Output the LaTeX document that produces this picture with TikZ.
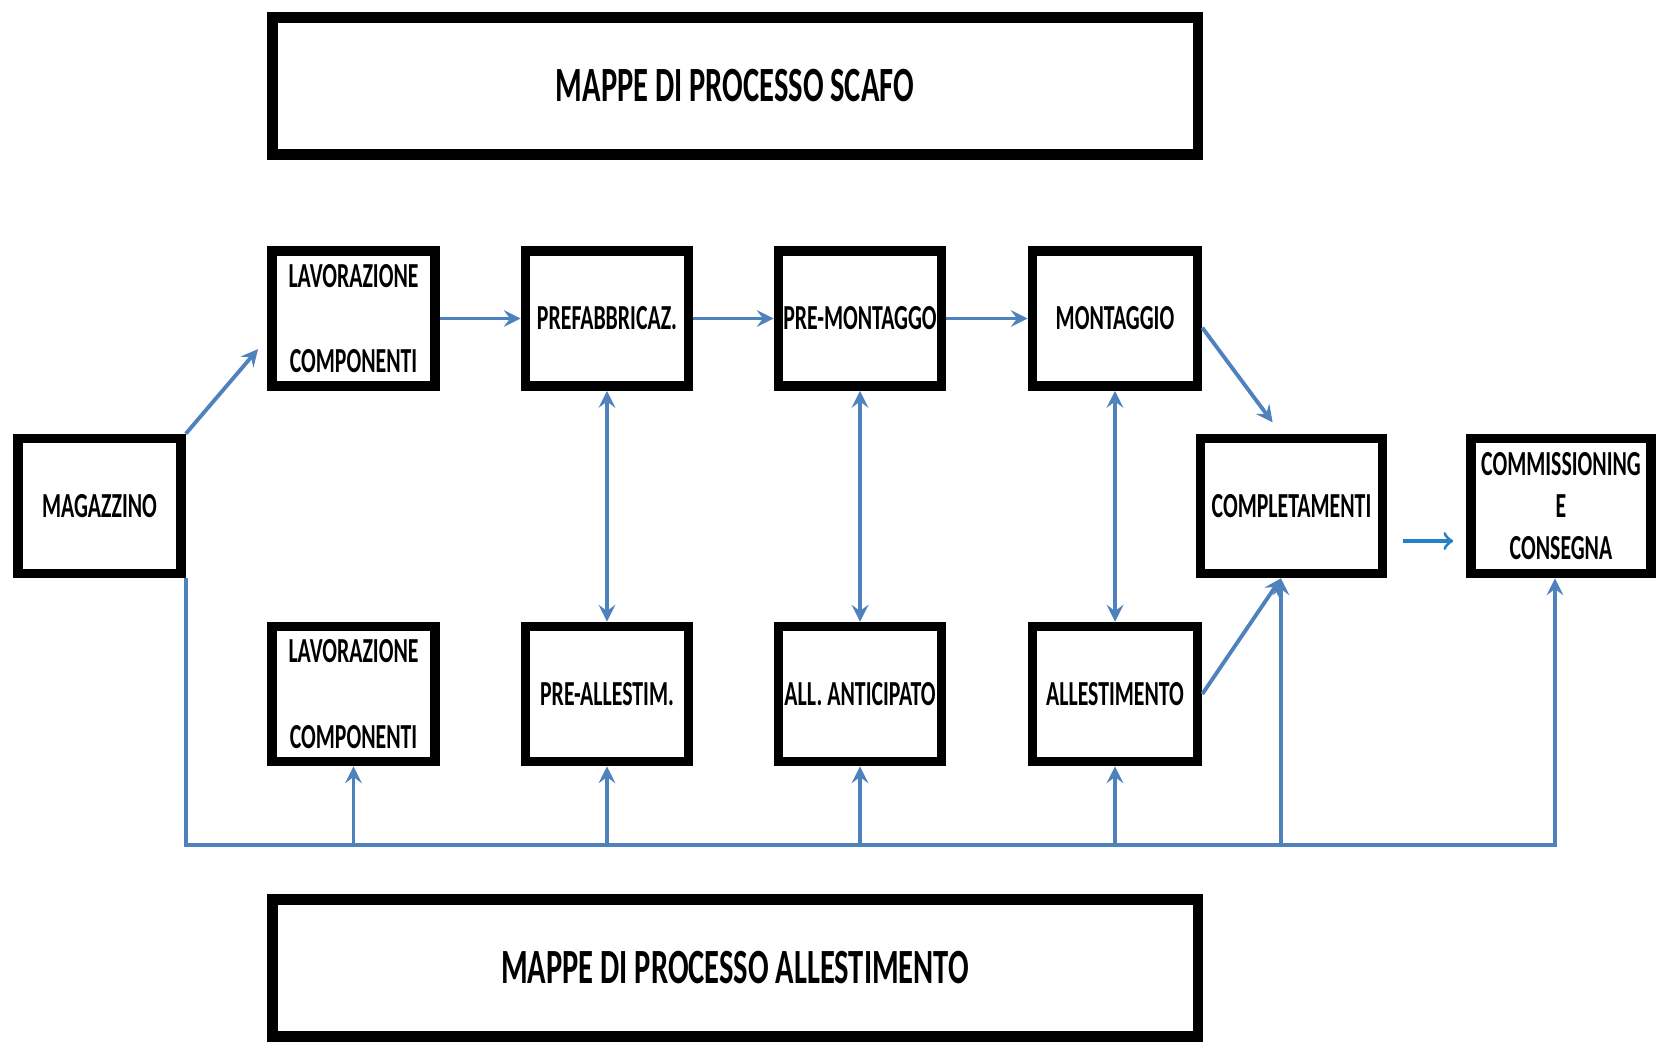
\documentclass[tikz,border=0pt]{standalone}
\usepackage{fontspec}
\setmainfont{Carlito}[FakeStretch=0.62]
\usetikzlibrary{positioning}
\usetikzlibrary{arrows}
\usetikzlibrary{calc}
\definecolor{flowblue}{RGB}{79,129,189}
\definecolor{outblue}{RGB}{38,128,196}
\tikzset{
        boxnode/.style={align=center,inner sep=0pt},
        % Process steps
        node_step/.style={boxnode, rectangle, draw=black, line width=2.7pt, fill=white, minimum width=1.63cm, minimum height=1.35cm, font=\bfseries\fontsize{10}{12}\selectfont},
        % Map titles
        node_title/.style={boxnode, rectangle, draw=black, line width=3pt, fill=white, minimum width=9.25cm, minimum height=1.37cm, font=\bfseries\fontsize{14}{16}\selectfont},
        % Flow connectors
        edge_flow/.style={draw=flowblue, line width=1.1pt, -stealth},
        % Two-way connectors
        edge_both/.style={edge_flow, stealth-stealth},
        % Delivery connector
        edge_out/.style={draw=outblue, line width=0.9pt, ->}
}

\begin{document}
\begin{tikzpicture}[x=0.01cm, y=-0.01cm]
            \useasboundingbox (0,0) rectangle (1663,1041);
            % titles
            \node[node_title] (scafo) at (735,86) {MAPPE DI PROCESSO SCAFO};
            \node[node_title] (allmap) at (735,968) {MAPPE DI PROCESSO ALLESTIMENTO};
            % top row
            \node[node_step] (lav1) at (353.5,318.5) {LAVORAZIONE\\[0.43cm]COMPONENTI};
            \node[node_step] (prefab) at (607,318.5) {PREFABBRICAZ.};
            \node[node_step] (premont) at (860,318.5) {PRE-MONTAGGO};
            \node[node_step, minimum width=1.65cm] (mont) at (1115,318.5) {MONTAGGIO};
            % middle row
            \node[node_step] (mag) at (99.5,506) {MAGAZZINO};
            \node[node_step, minimum width=1.82cm] (compl) at (1291.5,506) {COMPLETAMENTI};
            \node[node_step, minimum width=1.8cm] (comm) at (1561,506) {COMMISSIONING\\E\\CONSEGNA};
            % bottom row
            \node[node_step] (lav2) at (353.5,694) {LAVORAZIONE\\[0.43cm]COMPONENTI};
            \node[node_step] (preall) at (607,694) {PRE-ALLESTIM.};
            \node[node_step] (allant) at (860,694) {ALL. ANTICIPATO};
            \node[node_step, minimum width=1.65cm] (allest) at (1115,694) {ALLESTIMENTO};
            % bus
            \coordinate (busend) at (1555,845);
            \coordinate (tapc) at (1281,845);

            \draw[edge_flow, shorten >=4pt] (mag.north east) -- (lav1.193);
            \draw[edge_flow] (lav1.east) -- (prefab.west);
            \draw[edge_flow] (prefab.east) -- (premont.west);
            \draw[edge_flow] (premont.east) -- (mont.west);
            \draw[edge_flow, shorten >=4pt] (mont.354) -- (compl.north -| tapc);
            \draw[edge_flow] (allest.east) -- (tapc |- compl.south);
            \foreach \a/\b in {prefab/preall, premont/allant, mont/allest}
                \draw[edge_both] (\a.south) -- (\b.north);
            \draw[edge_flow] (mag.south east) |- (busend) -- (busend |- comm.south);
            \foreach \n in {lav2, preall, allant, allest}
                \draw[edge_flow] (\n.south |- busend) -- (\n.south);
            \draw[edge_flow] (tapc) -- (tapc |- compl.south);
            \draw[edge_out] ($(compl.east)+(16,35)$) -- ($(comm.west)+(-13,35)$);
\end{tikzpicture}
\end{document}
